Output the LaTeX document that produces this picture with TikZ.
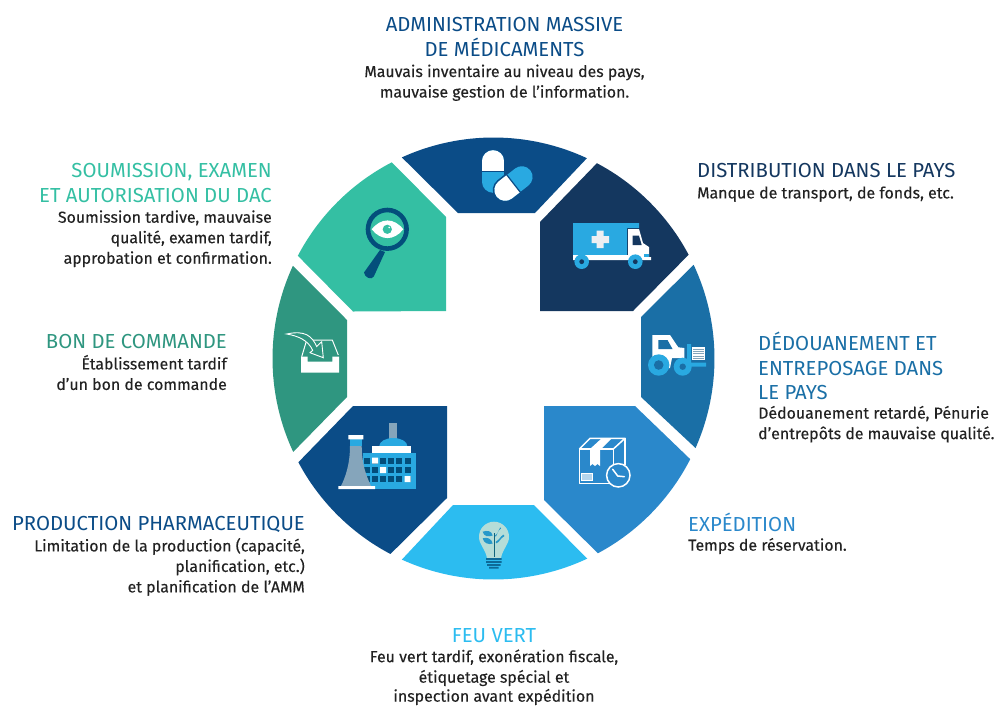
\documentclass[tikz,border=0pt]{standalone}
\usepackage{fontspec}
\setmainfont{Fira Sans}
\newfontfamily\bodyfont{Fira Sans}[FakeBold=0.25]
\definecolor{cA}{HTML}{0B4C87}
\definecolor{cB}{HTML}{14375F}
\definecolor{cC}{HTML}{1A6FA6}
\definecolor{cD}{HTML}{2A88CB}
\definecolor{cE}{HTML}{2CBCF0}
\definecolor{cF}{HTML}{2F9680}
\definecolor{cG}{HTML}{34BFA3}
\definecolor{iconblue}{HTML}{29A9E1}
\definecolor{icondark}{HTML}{034E7B}
\definecolor{icongrey}{HTML}{85A5BB}
\definecolor{bulb}{HTML}{B5DDD8}
\definecolor{txt}{HTML}{222222}
\newcommand\ttl[2]{{\normalfont\fontsize{20.3}{20.7}\selectfont\color{#1}#2}}
\newcommand\seg[4]{\fill[#1] (c) ++(#2:221) arc[start angle=#2,end angle=#3,radius=221] -- #4 -- cycle;}
\tikzset{
  lab/.style={inner sep=0pt,text=txt,font=\bodyfont\fontsize{15.9}{20.5}\selectfont},
  labr/.style={lab,anchor=north east,align=right},
  labl/.style={lab,anchor=north west,align=left},
  labc/.style={lab,anchor=north,align=center},
  wl/.style={draw=white,line width=1.5pt},
  pill/.style={line width=21.6pt,line cap=round},
}
\begin{document}
\begin{tikzpicture}[x=1pt,y=-1pt]
\useasboundingbox (0,0) rectangle (999,705);
\coordinate (c) at (493.5,358.5);
% segments
\seg{cA}{-114.5}{-65}{(535,213) -- (458,213)}
\seg{cB}{-62.1}{-28}{(633,311) -- (540,311) -- (540,222)}
\seg{cC}{-25.1}{23.9}{(641,397) -- (641,317)}
\seg{cD}{27.1}{61.8}{(544,500) -- (544,406) -- (635,406)}
\seg{cE}{64.9}{114.5}{(453,505) -- (534,505)}
\seg{cA}{117.8}{152}{(353,406) -- (447,406) -- (447,498)}
\seg{cF}{155}{204.8}{(347,320) -- (347,397)}
\seg{cG}{207.7}{242.6}{(446,217) -- (446,311) -- (353,311.5)}
% pills
\draw[pill,iconblue] (493.2,161) -- (493.2,182);
\begin{scope}
 \clip (470,140) rectangle (520,171.5);
 \draw[pill,white] (493.2,161) -- (493.2,182);
\end{scope}
\draw[cA,line width=1pt] (482,171.5) -- (504.5,171.5);
\draw[line width=25pt,line cap=round,cA] (505.2,190) -- (521.8,177);
\draw[pill,iconblue] (505.2,190) -- (521.8,177);
\begin{scope}
 \clip (532,207.1) -- (495,159.9) -- (463.5,184.5) -- (500.5,231.7) -- cycle;
 \draw[pill,white] (505.2,190) -- (521.8,177);
\end{scope}
\draw[cA,line width=1.2pt] (506.7,174.8) -- (520.3,192.2);
% truck
\fill[iconblue] (573,223) -- (639,223) -- (639,228) -- (627,228) -- (627,255) -- (573,255) -- cycle;
\fill[white] (628,229) -- (639,229) -- (643,243) -- (649,247) -- (649,257) -- (651,257) -- (651,260) -- (573,260) -- (573,255) -- (628,255) -- cycle;
\fill[cB] (632.7,235.7) -- (639,235.7) -- (641.7,245) -- (632.7,245) -- cycle;
\fill[iconblue] (643.7,254) rectangle (649,257.3);
\fill[white!92!cB] (596.5,230.5) rectangle (603.5,248) (591.7,236) rectangle (609,243);
\fill[iconblue] (581.7,261.7) circle[radius=7.3] (635.3,261.7) circle[radius=7.3];
\fill[cB] (581.7,261.7) circle[radius=2.4] (635.3,261.7) circle[radius=2.4];
% forklift
\fill[white] (652.3,335) -- (670,335) -- (678.3,347.3) -- (684.3,348) -- (684.3,358) -- (672,358) -- (670,368) -- (652.3,368) -- cycle;
\fill[cC] (658.3,340) -- (667.5,340) -- (672.5,349) -- (658.3,349) -- cycle;
\fill[iconblue] (658.7,365) circle[radius=10.7] (682.7,366.7) circle[radius=9];
\fill[cC] (658.7,365) circle[radius=4.8] (682.7,366.7) circle[radius=3.2];
\fill[iconblue] (687,344) rectangle (691,366) (687,362.7) rectangle (706,366.5);
\fill[white] (692.3,347.3) rectangle (705,360);
\foreach \yy in {349.5,351.7,353.9,356.1,358.3} {\draw[icongrey,line width=.9pt] (693.3,\yy) -- (704,\yy);}
% box
\draw[wl,line join=round] (579.3,449) rectangle (613.3,483.3);
\draw[wl,line join=round] (579.3,449) -- (590,438.3) -- (625,438.3) -- (613.3,449);
\draw[wl] (625,438.3) -- (625,465);
\fill[white] (590,449) -- (601,449) -- (611.7,438.3) -- (601.7,438.3) -- cycle;
\fill[white] (590,449) -- (600,449) -- (600,466) -- (597.5,464) -- (595,466) -- (592.5,464) -- (590,466) -- cycle;
\draw[white,line width=1pt,fill=white!65!cD] (581,473.5) rectangle (592.3,480.7);
\draw[wl,fill=cD] (618.3,475.3) circle[radius=11.7];
\draw[wl,line cap=round,line join=round] (612.7,469.3) -- (617.7,476) -- (624.3,476.7);
% bulb
\fill[bulb] (479,536.7) arc[start angle=180,end angle=360,radius=15] .. controls (509,545) and (503,548) .. (501,558) -- (487,558) .. controls (485,548) and (479,545) .. (479,536.7) -- cycle;
\draw[icondark!70!cF,line width=1pt] (494,557) -- (494,533);
\foreach \ax/\ay/\bx/\by in {482.7/531.7/492.7/535.5,495/535.5/501/528.5,482.7/538.3/492.7/543.5,495.5/542/504.5/536}
  {\fill[iconblue!90!black] (\ax,\ay) .. controls ({\ax+1},{\ay+5}) and ({\bx-4},{\by+1.5}) .. (\bx,\by) .. controls ({\bx-1},{\by-5}) and ({\ax+4},{\ay-1.5}) .. (\ax,\ay) -- cycle;}
\fill[icondark!75!cE] (486,558) rectangle (501.5,559.8) (486,561) rectangle (501.5,562.8) (487,564) rectangle (500.5,565.8) (489,566.8) rectangle (498.5,568.5);
% factory
\fill[iconblue] (362.7,453) rectangle (416,489);
\foreach \cx in {364,372,380,388,396,404.7} \foreach \ry in {457.7,467,476} {\fill[icondark] (\cx,\ry) rectangle ({\cx+6},{\ry+6});}
\fill[white] (372,457.7) rectangle (378,463.7) (380,467) rectangle (386,473) (404.7,476) rectangle (410.7,482);
\fill[icongrey] (389.3,423.3) rectangle (397.3,439);
\fill[iconblue] (379.3,446) arc[start angle=180,end angle=360,x radius=14,y radius=8] -- cycle;
\fill[white] (372,446) rectangle (411,453);
\fill[icongrey] (350,446) .. controls (350,465) and (345,478) .. (341,486) -- (371,486) .. controls (366,475) and (362,465) .. (361.7,446) -- cycle;
\fill[iconblue] (350,439) rectangle (361.7,446);
\fill[white] (348.3,435) rectangle (363.3,439.3) (338.3,486) rectangle (375,489);
% inbox
\draw[white,line width=1pt,line join=miter] (301.7,356.7) -- (306.7,340) -- (332.3,340) -- (338.3,355);
\fill[white] (301,356.7) -- (307.7,356.7) -- (307.7,361.7) -- (332.3,361.7) -- (332.3,356.7) -- (339,356.7) -- (339,372.7) -- (301,372.7) -- cycle;
\draw[white,line width=.9pt,fill=cF,line join=miter] (286.7,334) .. controls (305,330) and (312,336) .. (316.7,346.5) -- (321.7,341.7) -- (323.3,357.7) -- (310,352.7) -- (312.7,350.3) .. controls (308,340) and (298,336) .. (286.7,334) -- cycle;
% magnifier
\fill[icondark] (380,250) -- (385,252) -- (373.8,276.5) .. controls (371.5,280.5) and (364.5,277.5) .. (364,272.5) -- cycle;
\draw[icondark,line width=4.6pt,fill=cG] (387.3,229.3) circle[radius=19.3];
\fill[white] (371.7,229.3) .. controls (381,217.5) and (394,217.5) .. (403.3,229.3) .. controls (394,241) and (381,241) .. (371.7,229.3) -- cycle;
\fill[cG] (387.3,229.3) circle[radius=4.6];
\fill[white] (389.2,227.4) circle[radius=.9];
% labels
\node[labc] (lA) at (504.5,17.5) {\ttl{cA}{ADMINISTRATION MASSIVE}\\[3.8pt]\ttl{cA}{DE MÉDICAMENTS}\\[.3pt]Mauvais inventaire au niveau des pays,\\mauvaise gestion de l’information.};
\node[labl] (lB) at (697,163.5) {\ttl{cB}{DISTRIBUTION DANS LE PAYS}\\Manque de transport, de fonds, etc.};
\node[labl] (lC) at (758,332) {\ttl{cC}{DÉDOUANEMENT ET}\\[3.8pt]\ttl{cC}{ENTREPOSAGE DANS}\\[3.8pt]\ttl{cC}{LE PAYS}\\[-1.2pt]Dédouanement retardé, Pénurie\\d’entrepôts de mauvaise qualité.};
\node[labl] (lD) at (688,512.5) {\ttl{cD}{EXPÉDITION}\\[-1pt]Temps de réservation.};
\node[labc] (lE) at (494,628.5) {\ttl{cE}{FEU VERT}\\[-1pt]Feu vert tardif, exonération fiscale,\\étiquetage spécial et\\[-1.5pt]inspection avant expédition};
\node[labr] (lF) at (305,516.5) {\ttl{cA}{PRODUCTION PHARMACEUTIQUE}\\Limitation de la production (capacité,\\planification, etc.)\\et planification de l’AMM};
\node[labr] (lG) at (227,334.5) {\ttl{cF}{BON DE COMMANDE}\\Établissement tardif\\d’un bon de commande};
\node[labr] (lH) at (272,163.5) {\ttl{cG}{SOUMISSION, EXAMEN}\\[3.8pt]\ttl{cG}{ET AUTORISATION DU DAC}\\Soumission tardive, mauvaise\\qualité, examen tardif,\\approbation et confirmation.};
\end{tikzpicture}
\end{document}
